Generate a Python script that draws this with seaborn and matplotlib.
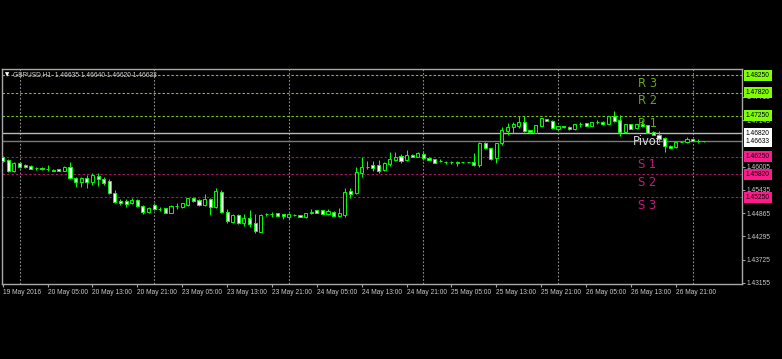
import numpy as np
import pandas as pd
import matplotlib
matplotlib.use("Agg")
import matplotlib.pyplot as plt
import seaborn as sns

# ---------------- data (GBPUSD H1) ----------------
open_ = [
    1.46241, 1.46168, 1.45898, 1.46094, 1.46045, 1.46021, 1.45972, 1.45972, 1.45947, 1.45923,
    1.45947, 1.45898, 1.45996, 1.45727, 1.45629, 1.45727, 1.45629, 1.45776, 1.45702, 1.45653,
    1.45359, 1.45163, 1.45163, 1.45114, 1.45188, 1.45041, 1.44894, 1.45065, 1.44967, 1.44992,
    1.44869, 1.45041, 1.45016, 1.45065, 1.45237, 1.45188, 1.45065, 1.45212, 1.45016, 1.45384,
    1.44894, 1.44649, 1.44820, 1.44624, 1.44747, 1.44624, 1.44404, 1.44845, 1.44845, 1.44869,
    1.44845, 1.44771, 1.44820, 1.44820, 1.44771, 1.44869, 1.44943, 1.44943, 1.44845, 1.44894,
    1.44796, 1.44820, 1.45408, 1.45359, 1.45849, 1.45996, 1.46045, 1.46045, 1.45923, 1.46070,
    1.46168, 1.46266, 1.46168, 1.46290, 1.46241, 1.46315, 1.46217, 1.46192, 1.46143, 1.46119,
    1.46119, 1.46094, 1.46119, 1.46119, 1.46119, 1.46045, 1.46584, 1.46462, 1.46217, 1.46584,
    1.46878, 1.46976, 1.47001, 1.47099, 1.46903, 1.46829, 1.47001, 1.47172, 1.47123, 1.46927,
    1.47001, 1.46976, 1.46927, 1.47050, 1.47074, 1.47001, 1.47099, 1.47099, 1.47050, 1.47246,
    1.47148, 1.46854, 1.47050, 1.46952, 1.47050, 1.47025, 1.46854, 1.46780, 1.46707, 1.46511,
    1.46486, 1.46609, 1.46609, 1.46682, 1.46633, 1.46635]
high = [
    1.46266, 1.46192, 1.46119, 1.46119, 1.46070, 1.46045, 1.45996, 1.45996, 1.46045, 1.45947,
    1.45947, 1.46021, 1.46119, 1.45751, 1.45751, 1.45800, 1.45849, 1.45849, 1.45751, 1.45702,
    1.45433, 1.45212, 1.45212, 1.45237, 1.45212, 1.45065, 1.45016, 1.45114, 1.45016, 1.44992,
    1.45065, 1.45114, 1.45114, 1.45237, 1.45261, 1.45212, 1.45335, 1.45237, 1.45482, 1.45433,
    1.44967, 1.44845, 1.44845, 1.44845, 1.44943, 1.44845, 1.44845, 1.44869, 1.44894, 1.44869,
    1.44845, 1.44869, 1.44845, 1.44820, 1.44869, 1.44967, 1.44943, 1.44943, 1.44967, 1.44918,
    1.44992, 1.45482, 1.45482, 1.45996, 1.46241, 1.46143, 1.46143, 1.46168, 1.46119, 1.46364,
    1.46364, 1.46315, 1.46413, 1.46315, 1.46364, 1.46364, 1.46241, 1.46192, 1.46192, 1.46143,
    1.46143, 1.46143, 1.46119, 1.46119, 1.46339, 1.46609, 1.46609, 1.46462, 1.46584, 1.46976,
    1.47074, 1.47099, 1.47246, 1.47246, 1.46903, 1.47025, 1.47197, 1.47172, 1.47148, 1.47001,
    1.47001, 1.47001, 1.47050, 1.47099, 1.47074, 1.47099, 1.47148, 1.47123, 1.47246, 1.47368,
    1.47270, 1.47050, 1.47050, 1.47050, 1.47148, 1.47025, 1.46878, 1.46878, 1.46731, 1.46535,
    1.46633, 1.46633, 1.46731, 1.46682, 1.46682, 1.46640]
low = [
    1.46119, 1.45874, 1.45874, 1.45972, 1.45972, 1.45947, 1.45923, 1.45923, 1.45898, 1.45898,
    1.45898, 1.45898, 1.45702, 1.45506, 1.45506, 1.45482, 1.45555, 1.45531, 1.45555, 1.45335,
    1.45114, 1.45065, 1.45016, 1.45090, 1.45016, 1.44845, 1.44869, 1.44943, 1.44918, 1.44869,
    1.44869, 1.44967, 1.44992, 1.45041, 1.45139, 1.45041, 1.45041, 1.44820, 1.44992, 1.44869,
    1.44624, 1.44624, 1.44600, 1.44551, 1.44526, 1.44379, 1.44404, 1.44796, 1.44771, 1.44796,
    1.44722, 1.44722, 1.44796, 1.44771, 1.44747, 1.44845, 1.44869, 1.44845, 1.44820, 1.44796,
    1.44771, 1.44771, 1.45237, 1.45335, 1.45751, 1.45947, 1.45898, 1.45849, 1.45898, 1.46021,
    1.46143, 1.46094, 1.46143, 1.46241, 1.46241, 1.46168, 1.46168, 1.46094, 1.46119, 1.46070,
    1.46070, 1.46021, 1.46094, 1.46094, 1.46021, 1.45996, 1.46437, 1.46168, 1.46094, 1.46535,
    1.46780, 1.46829, 1.46952, 1.46854, 1.46829, 1.46829, 1.47001, 1.47123, 1.46927, 1.46903,
    1.46952, 1.46903, 1.46903, 1.46976, 1.47001, 1.47001, 1.47050, 1.47025, 1.47050, 1.47099,
    1.46756, 1.46829, 1.46927, 1.46927, 1.46976, 1.46829, 1.46780, 1.46609, 1.46364, 1.46462,
    1.46462, 1.46609, 1.46584, 1.46633, 1.46584, 1.46620]
close = [
    1.46143, 1.45898, 1.46094, 1.45996, 1.45996, 1.45947, 1.45972, 1.45947, 1.45947, 1.45898,
    1.45898, 1.45996, 1.45727, 1.45629, 1.45727, 1.45629, 1.45800, 1.45702, 1.45604, 1.45359,
    1.45139, 1.45114, 1.45090, 1.45188, 1.45041, 1.44894, 1.44992, 1.44967, 1.44967, 1.44869,
    1.45041, 1.45041, 1.45114, 1.45237, 1.45163, 1.45065, 1.45212, 1.45016, 1.45408, 1.44894,
    1.44673, 1.44820, 1.44624, 1.44747, 1.44600, 1.44428, 1.44820, 1.44845, 1.44845, 1.44796,
    1.44796, 1.44845, 1.44820, 1.44771, 1.44869, 1.44894, 1.44869, 1.44845, 1.44918, 1.44796,
    1.44869, 1.45384, 1.45335, 1.45874, 1.45996, 1.45996, 1.45972, 1.45898, 1.46094, 1.46192,
    1.46241, 1.46143, 1.46290, 1.46241, 1.46339, 1.46217, 1.46168, 1.46094, 1.46143, 1.46119,
    1.46119, 1.46119, 1.46119, 1.46119, 1.46045, 1.46584, 1.46462, 1.46192, 1.46584, 1.46903,
    1.46976, 1.47050, 1.47099, 1.46878, 1.46854, 1.47025, 1.47197, 1.47123, 1.46952, 1.47001,
    1.46976, 1.46927, 1.47050, 1.47050, 1.47001, 1.47099, 1.47099, 1.47050, 1.47246, 1.47123,
    1.46854, 1.47050, 1.46927, 1.47050, 1.47001, 1.46829, 1.46780, 1.46682, 1.46511, 1.46462,
    1.46609, 1.46609, 1.46682, 1.46633, 1.46633, 1.46633]

x_tick_bars = [0, 8, 16, 24, 32, 40, 48, 56, 64, 72, 80, 88, 96, 104, 112, 120]
x_tick_labels = ["19 May 2016", "20 May 05:00", "20 May 13:00", "20 May 21:00",
                 "23 May 05:00", "23 May 13:00", "23 May 21:00", "24 May 05:00",
                 "24 May 13:00", "24 May 21:00", "25 May 05:00", "25 May 13:00",
                 "25 May 21:00", "26 May 05:00", "26 May 13:00", "26 May 21:00"]
day_separator_bars = [3, 27, 51, 75, 99, 123]
y_ticks = [1.43155, 1.43725, 1.44295, 1.44865, 1.45435, 1.46005, 1.47145, 1.47715]
level_names = ["R 3", "R 2", "R 1", "Pivot", "S 1", "S 2", "S 3"]
level_values = [1.48250, 1.47820, 1.47250, 1.46820, 1.46250, 1.45820, 1.45250]
header_text = "GBPUSD,H1  1.46635 1.46640 1.46620 1.46633"
current_price = 1.46633

# ---------------- style ----------------
sns.set_theme(style="dark", rc={
    "figure.facecolor": "black", "axes.facecolor": "black",
    "savefig.facecolor": "black", "axes.grid": False})
plt.rcParams["font.family"] = ["Liberation Sans", "DejaVu Sans"]

W, H = 782, 359
fig = plt.figure(figsize=(W / 100, H / 100), dpi=100, facecolor="black")
ax = fig.add_axes([2 / W, (H - 284) / H, 740 / W, 215 / H])
ax.set_facecolor("black")

df = pd.DataFrame({"open": open_, "high": high, "low": low, "close": close})
df["bar"] = np.arange(len(df))
df["bottom"] = df[["open", "close"]].min(axis=1)
df["height"] = (df["close"] - df["open"]).abs().clip(lower=0.00003)
df["fill"] = np.where(df["close"] < df["open"], "white", "black")

LIME = "#00FF00"
ax.vlines(df["bar"], df["low"], df["high"], color=LIME, lw=0.75, zorder=3)
ax.bar(df["bar"], df["height"], bottom=df["bottom"], width=0.55,
       color=df["fill"], edgecolor=LIME, linewidth=0.7, zorder=4)

# day separators
for b in day_separator_bars:
    ax.axvline(b, color="#8A8A8A", lw=0.8, ls=(0, (1.6, 1.6)), zorder=1)

# pivot levels
line_colors = {"R": "#7FC21C", "S": "#A3175F", "P": "#B8B8B8"}
text_colors = {"R": "#62A618", "S": "#C8197F", "P": "#D8D8D8"}
box_colors = {"R": "#80FF00", "S": "#FF1A8C", "P": "#FFFFFF"}
for name, val in zip(level_names, level_values):
    k = name[0]
    if k == "P":
        ax.axhline(val, color=line_colors[k], lw=1.0, zorder=2)
        tx = 112.4
    else:
        ax.axhline(val, color=line_colors[k], lw=0.8, ls=(0, (2.2, 1.8)), zorder=2)
        tx = 113.3
    ax.annotate(name, xy=(tx, val), xytext=(0, -8), textcoords="offset pixels",
                ha="left", va="center", fontsize=8.3, color=text_colors[k],
                family=["DejaVu Sans"], zorder=6)
    ax.annotate(f"{val:.5f}", xy=(1, val), xycoords=ax.get_yaxis_transform(),
                xytext=(4, 0), textcoords="offset pixels", ha="left", va="center",
                fontsize=4.8, color="black", annotation_clip=False, zorder=10,
                bbox=dict(boxstyle="square,pad=0.3", fc=box_colors[k], ec="none"))

# current price line
ax.axhline(current_price, color="#7A7A7A", lw=1.0, zorder=2)
ax.annotate(f"{current_price:.5f}", xy=(1, current_price), xycoords=ax.get_yaxis_transform(),
            xytext=(4, 0), textcoords="offset pixels", ha="left", va="center",
            fontsize=4.8, color="black", annotation_clip=False, zorder=10,
            bbox=dict(boxstyle="square,pad=0.3", fc="white", ec="none"))

ax.set_xlim(-0.125, 131.8)
ax.set_ylim(1.43130, 1.48397)

ax.set_xticks(x_tick_bars)
ax.set_xticklabels(x_tick_labels)
ax.yaxis.tick_right()
ax.set_yticks(y_ticks)
ax.set_yticklabels([f"{v:.5f}" for v in y_ticks])
ax.tick_params(axis="x", bottom=True, length=2, width=0.8, color="#A0A0A0",
               labelsize=4.8, labelcolor="#C8C8C8", pad=1.5)
ax.tick_params(axis="y", right=True, left=False, length=2, width=0.8, color="#A0A0A0",
               labelsize=4.8, labelcolor="#C8C8C8", pad=1.5)
for lbl in ax.get_xticklabels():
    lbl.set_ha("left")
ax.set_xlabel("")
ax.set_ylabel("")
for sp in ax.spines.values():
    sp.set_visible(True)
    sp.set_color("#A8A8A8")
    sp.set_linewidth(1.0)

# header
fig.text(5 / W, 1 - 75 / H, "\u25BC", fontsize=4.0, color="white", va="center", ha="left",
         family=["DejaVu Sans"])
fig.text(13 / W, 1 - 75 / H, header_text, fontsize=4.8, color="#D0D0D0",
         va="center", ha="left")

fig.savefig("out.png", dpi=100, facecolor="black")
